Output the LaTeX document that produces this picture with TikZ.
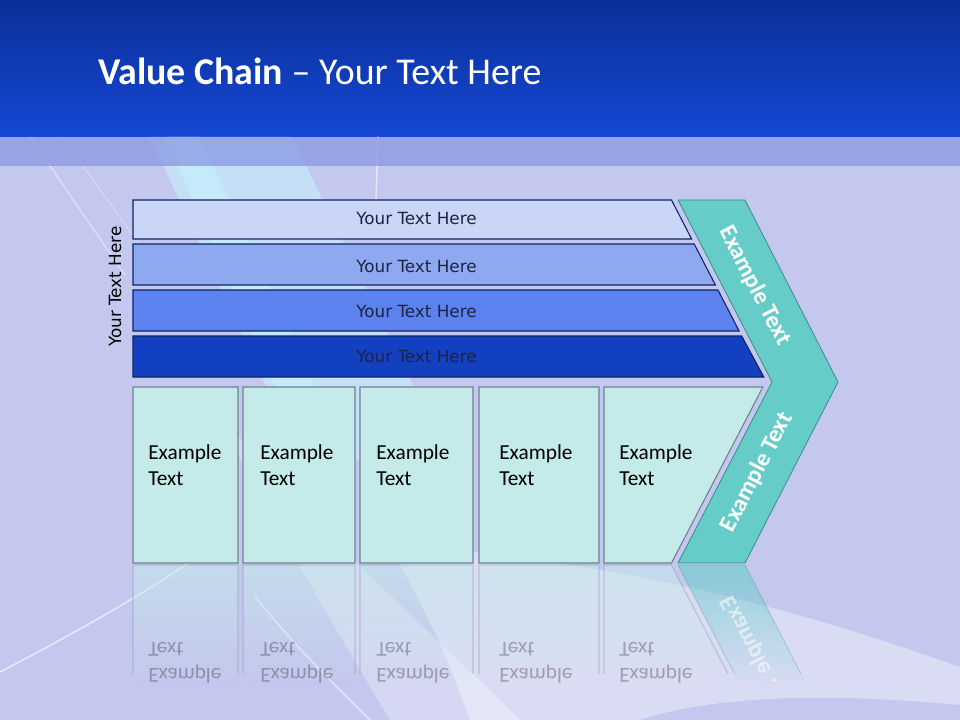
\documentclass[tikz,border=0pt]{standalone}
\usepackage{fontspec}
\setmainfont{Carlito}
\newfontfamily\barfont{DejaVu Sans}

\definecolor{hdtop}{HTML}{0B2F99}
\definecolor{hdbot}{HTML}{1448D3}
\definecolor{bandcol}{HTML}{8A97E2}
\definecolor{bgcol}{HTML}{C4C7EE}
\definecolor{glowcol}{HTML}{C6F4FF}
\definecolor{barA}{HTML}{C9D6F8}
\definecolor{barB}{HTML}{8FA9F1}
\definecolor{barC}{HTML}{5B82EE}
\definecolor{barD}{HTML}{1240C1}
\definecolor{barline}{HTML}{0E2466}
\definecolor{bartextcol}{HTML}{1D2442}
\definecolor{cellfill}{HTML}{C4EBEA}
\definecolor{cellline}{HTML}{71808E}
\definecolor{armfill}{HTML}{66CCC8}
\definecolor{armline}{HTML}{3B8C8A}

\newcommand\cellpath{(133,387) rectangle (238,563) (243,387) rectangle (355,563) (360,387) rectangle (473,563) (479,387) rectangle (599,563) (604,387) -- (762.9,387) -- (671.5,563) -- (604,563) -- cycle}
\newcommand\armpath{(772,382) -- (838,382) -- (745,563) -- (678,563) -- cycle}

\begin{document}
\begin{tikzpicture}[x=0.75pt,y=-0.75pt,
  bar/.style={draw=barline,line width=0.8pt},
  bartext/.style={font=\barfont\fontsize{12.6}{15}\selectfont,text=bartextcol,inner sep=0pt},
  cell/.style={fill=cellfill,draw=cellline,line width=0.8pt},
  celltext/.style={font=\fontsize{16}{19.5}\selectfont,align=left,anchor=west,inner sep=0pt,text=black},
  arm/.style={fill=armfill,draw=armline,line width=0.6pt},
  armtext/.style={font=\bfseries\fontsize{18}{22}\selectfont,text=white,inner sep=0pt},
  streak/.style={white,line cap=round}]
\useasboundingbox (0,0) rectangle (960,720);
\fill[bgcol] (0,0) rectangle (960,720);
\shade[top color=hdtop,bottom color=hdbot] (0,0) rectangle (960,137);

\fill[glowcol,opacity=0.55] (150,137) -- (292,137) -- (450,460) -- (300,460) -- cycle;
\fill[glowcol,opacity=0.6] (165,137) -- (200,137) -- (330,420) -- (290,420) -- cycle;
\fill[white,opacity=0.3] (210,400) .. controls (300,520) and (420,620) .. (520,720) -- (390,720) .. controls (330,620) and (260,500) .. cycle;
\fill[white,opacity=0.38] (390,545) .. controls (620,560) and (800,610) .. (960,667) -- (960,705) .. controls (800,690) and (700,700) .. (640,720) -- (470,720) .. controls (440,640) .. cycle;
\draw[streak,opacity=0.45,line width=1pt] (30,137) -- (125,275);
\draw[streak,opacity=0.3,line width=0.8pt] (62,137) -- (140,245);
\draw[streak,opacity=0.55,line width=1.2pt] (378,137) -- (376,200);
\draw[streak,opacity=0.6,line width=1.2pt] (0,672) .. controls (90,625) and (150,590) .. (200,555);
\draw[streak,opacity=0.5,line width=1.2pt] (255,597) .. controls (300,650) .. (370,720);
\fill[bandcol,opacity=0.75] (0,137) rectangle (960,166);

\node[anchor=base west,inner sep=0pt,text=white,font=\fontsize{28.4}{34}\selectfont] (title) at (98,85) {\textbf{Value Chain} – Your Text Here};

\path[bar,fill=barA] (133,200) -- (671.5,200) -- (691.6,239) -- (133,239) -- cycle;
\path[bar,fill=barB] (133,244) -- (694.2,244) -- (715.4,285) -- (133,285) -- cycle;
\path[bar,fill=barC] (133,290) -- (718.0,290) -- (739.1,331) -- (133,331) -- cycle;
\path[bar,fill=barD] (133,336) -- (741.7,336) -- (763.8,377) -- (133,377) -- cycle;
\node[bartext] (bar1) at (416.5,218.5) {Your Text Here};
\node[bartext] (bar2) at (416.5,266) {Your Text Here};
\node[bartext] (bar3) at (416.5,311.3) {Your Text Here};
\node[bartext] (bar4) at (416.5,356.3) {Your Text Here};
\node[bartext,text=black,rotate=90] (side) at (115,286.5) {Your Text Here};

\path[arm] (678,200) -- (745,200) -- (838,382) -- (745,563) -- (678,563) -- (772,382) -- cycle;
\node[armtext,rotate=-62.7] (armup) at (755,286) {Example Text};
\path[cell] \cellpath;
\foreach \xt/\k in {148/1,260/2,376/3,499/4,619/5}
  \node[celltext] (cell\k) at (\xt,465) {Example\\Text};
\node[armtext,rotate=62.7] (armlow) at (757,472) {Example Text};

% mirror image below the row
\begin{scope}[shift={(0,564)},yscale=-1,shift={(0,-564)},transform shape]
\begin{scope}
\clip \cellpath;
\foreach \k in {0,...,23}
  \fill[cellfill,opacity=0.55-0.023*\k] (120,563-5*\k) rectangle (860,558-5*\k);
\end{scope}
\begin{scope}
\clip \armpath;
\foreach \k in {0,...,23}
  \fill[armfill,opacity=0.6-0.025*\k] (120,563-5*\k) rectangle (860,558-5*\k);
\end{scope}
\begin{scope}
\clip (100,455) rectangle (860,564);
\draw[cellline,opacity=0.3,line width=0.8pt] \cellpath;
\draw[armline,opacity=0.3,line width=0.6pt] \armpath;
\end{scope}
\foreach \xt/\k in {148/1,260/2,376/3,499/4,619/5}
  \node[celltext,text opacity=0.28] (mcell\k) at (\xt,465) {Example\\Text};
\begin{scope}
\clip (690,448) rectangle (860,564);
\node[armtext,rotate=62.7,text opacity=0.55] (marmlow) at (757,472) {Example Text};
\end{scope}
\end{scope}
\end{tikzpicture}
\end{document}
